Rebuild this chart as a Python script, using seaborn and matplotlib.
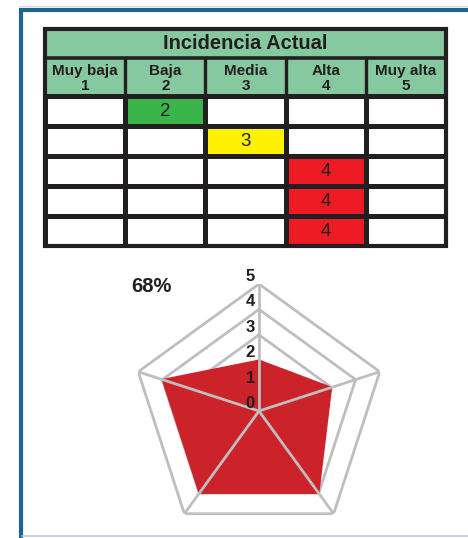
import numpy as np
import pandas as pd
import matplotlib
matplotlib.use('Agg')
import matplotlib.pyplot as plt
from matplotlib.colors import ListedColormap
from matplotlib.lines import Line2D
from matplotlib.patches import Rectangle
import seaborn as sns

# data
levels = ['Muy baja', 'Baja', 'Media', 'Alta', 'Muy alta']
scores = [1, 2, 3, 4, 5]
ratings = [2, 3, 4, 4, 4]
title = 'Incidencia Actual'

sns.set_style('white')
plt.rcParams['font.family'] = ['Liberation Sans', 'DejaVu Sans']

green_head = '#86c89f'
cell_colors = ['white', 'white', '#3bb54a', '#fff200', '#ed1c24']
dark = '#231f20'
grey = '#bcbec0'
red_fill = '#cc2229'

# matrix: one row per item, rating placed in its column
mat = np.zeros((len(ratings), len(scores)))
labels = np.full(mat.shape, '', dtype=object)
for i, r in enumerate(ratings):
    mat[i, scores.index(r)] = r
    labels[i, scores.index(r)] = str(r)
df = pd.DataFrame(mat, columns=levels)

fig = plt.figure(figsize=(4.68, 5.38), dpi=100)

# frame
fig.add_artist(Line2D([0.045, 0.045], [0, 1 - 9 / 538], color='#1f6592', lw=3,
                      transform=fig.transFigure, solid_capstyle='butt'))
fig.add_artist(Line2D([0.04, 1], [1 - 10 / 538] * 2, color='#1f6592', lw=3,
                      transform=fig.transFigure, solid_capstyle='butt'))
fig.add_artist(Line2D([0.04, 1], [1 - 6 / 538] * 2, color='#dcdcdc', lw=0.8,
                      transform=fig.transFigure))
fig.add_artist(Line2D([0.047, 1], [2 / 538] * 2, color='#b7cbe0', lw=1.2,
                      transform=fig.transFigure))

# table
ax = fig.add_axes([45 / 468, 1 - 246 / 538, 401 / 468, 217 / 538])
sns.heatmap(df, ax=ax, cmap=ListedColormap(cell_colors), vmin=-0.5, vmax=4.5,
            annot=labels, fmt='', cbar=False, linewidths=2.4, linecolor=dark,
            xticklabels=False, yticklabels=False,
            annot_kws={'fontsize': 13.5, 'color': dark})
t_top, h_top = -2.25, -1.28
ax.set_ylim(5, t_top)
ax.set_xlim(0, 5)
ax.add_patch(Rectangle((0, t_top), 5, -t_top, facecolor=green_head, edgecolor='none', zorder=0.5))
ax.plot([0, 5], [h_top, h_top], color=dark, lw=2.6, zorder=3)
ax.plot([0, 5], [0, 0], color=dark, lw=2.8, zorder=3)
for x in range(1, 5):
    ax.plot([x, x], [h_top, 0], color=dark, lw=2.4, zorder=3)
ax.add_patch(Rectangle((0, t_top), 5, 5 - t_top, facecolor='none', edgecolor=dark,
                       lw=3, zorder=4, clip_on=False))
ax.text(2.5, (t_top + h_top) / 2, title, ha='center', va='center',
        fontsize=14.5, fontweight='bold', color=dark)
for j, (lv, sc) in enumerate(zip(levels, scores)):
    ax.text(j + 0.5, h_top / 2 + 0.04, f'{lv}\n{sc}', ha='center', va='center',
            fontsize=11, fontweight='bold', color=dark, linespacing=1.12)
for s in ax.spines.values():
    s.set_visible(False)

# radar
n = len(ratings)
angles = np.linspace(0, 2 * np.pi, n, endpoint=False).tolist()
closed = angles + angles[:1]
vals = ratings + ratings[:1]
pax = fig.add_axes([132 / 468, 0, 254 / 468, 254 / 538], projection='polar')
pax.set_theta_offset(np.pi / 2)
pax.set_theta_direction(-1)
pax.set_ylim(0, max(scores))
pax.axis('off')
for r in scores:
    pax.plot(closed, [r] * len(closed), color=grey, lw=2, zorder=1)
pax.fill(closed, vals, color=red_fill, zorder=2)
for a in angles:
    pax.plot([a, a], [0, max(scores)], color=grey, lw=2, zorder=3)
for r in [0] + scores:
    pax.annotate(str(r), xy=(0, r), xytext=(-3, 0), textcoords='offset points',
                 ha='right', va='bottom', fontsize=12, fontweight='bold',
                 color=dark, zorder=4)

pct = sum(ratings) / (len(ratings) * max(scores)) * 100
fig.text(131 / 468, 1 - 287 / 538, f'{pct:.0f}%', ha='left', va='center',
         fontsize=14.5, fontweight='bold', color=dark)

fig.savefig('out.png', dpi=100)
